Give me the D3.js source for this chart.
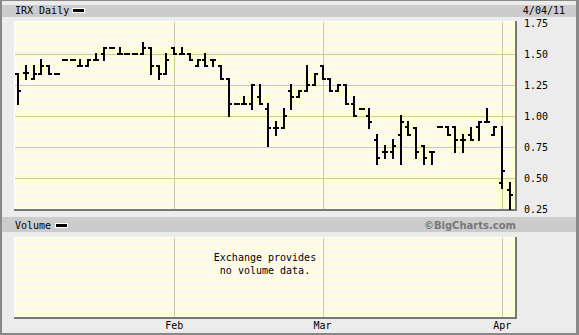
<!DOCTYPE html>
<html>
<head>
<meta charset="utf-8">
<script src="https://cdn.jsdelivr.net/npm/d3@7"></script>
<style>
body { margin: 0; background: #fff; }
svg { display: block; }
text { font-family: "DejaVu Sans Mono", monospace; font-size: 10px; fill: #000; }
</style>
</head>
<body>
<div id="chart"></div>
<script>
// trading days, Jan 3 - Apr 4 2011
const dates = [
    "2011-01-03","2011-01-04","2011-01-05","2011-01-06","2011-01-07",
    "2011-01-10","2011-01-11","2011-01-12","2011-01-13","2011-01-14",
    "2011-01-18","2011-01-19","2011-01-20","2011-01-21",
    "2011-01-24","2011-01-25","2011-01-26","2011-01-27","2011-01-28","2011-01-31",
    "2011-02-01","2011-02-02","2011-02-03","2011-02-04",
    "2011-02-07","2011-02-08","2011-02-09","2011-02-10","2011-02-11",
    "2011-02-14","2011-02-15","2011-02-16","2011-02-17","2011-02-18",
    "2011-02-22","2011-02-23","2011-02-24","2011-02-25","2011-02-28",
    "2011-03-01","2011-03-02","2011-03-03","2011-03-04",
    "2011-03-07","2011-03-08","2011-03-09","2011-03-10","2011-03-11",
    "2011-03-14","2011-03-15","2011-03-16","2011-03-17","2011-03-18",
    "2011-03-21","2011-03-22","2011-03-23","2011-03-24","2011-03-25",
    "2011-03-28","2011-03-29","2011-03-30","2011-03-31",
    "2011-04-01","2011-04-04"
];

const open = [1.34,1.35,1.30,1.34,1.40,1.34,1.45,1.45,1.40,1.40,1.45,1.50,1.55,1.50,1.50,1.50,1.50,1.55,1.40,1.34,
    1.55,1.50,1.50,1.40,1.45,1.45,1.40,1.30,1.10,1.10,1.10,1.15,1.06,0.90,0.90,1.20,1.15,1.20,1.25,
    1.40,1.30,1.20,1.25,1.10,1.06,1.00,0.81,0.71,0.71,0.85,0.91,0.90,0.76,0.71,0.91,0.91,0.91,0.81,0.85,0.91,0.95,0.85,
    0.46,0.40];
const high = [1.34,1.40,1.40,1.45,1.40,1.34,1.45,1.45,1.45,1.45,1.50,1.55,1.55,1.55,1.50,1.50,1.59,1.55,1.40,1.50,
    1.55,1.55,1.50,1.45,1.50,1.45,1.40,1.30,1.10,1.15,1.25,1.25,1.10,0.95,1.06,1.25,1.20,1.40,1.34,
    1.40,1.30,1.25,1.25,1.15,1.06,1.06,0.85,0.76,0.81,1.00,0.95,0.90,0.76,0.71,0.91,0.91,0.91,0.85,0.90,0.95,1.06,0.91,
    0.91,0.46];
const low = [1.10,1.30,1.30,1.34,1.34,1.34,1.45,1.45,1.40,1.40,1.45,1.45,1.55,1.50,1.50,1.50,1.50,1.34,1.30,1.34,
    1.50,1.50,1.45,1.40,1.40,1.40,1.30,1.00,1.10,1.10,1.06,1.10,0.76,0.85,0.90,1.06,1.15,1.20,1.25,
    1.30,1.20,1.20,1.10,1.00,1.06,0.90,0.61,0.66,0.66,0.61,0.85,0.66,0.61,0.61,0.91,0.85,0.71,0.71,0.81,0.81,0.95,0.85,
    0.42,0.25];
const close = [1.20,1.35,1.34,1.40,1.34,1.34,1.45,1.45,1.40,1.45,1.45,1.55,1.55,1.50,1.50,1.50,1.55,1.40,1.34,1.45,
    1.50,1.50,1.45,1.45,1.40,1.45,1.30,1.10,1.10,1.10,1.25,1.10,0.90,0.90,1.00,1.15,1.20,1.25,1.34,
    1.30,1.20,1.25,1.10,1.00,1.06,0.95,0.66,0.71,0.76,0.95,0.85,0.71,0.66,0.71,0.91,0.85,0.81,0.81,0.81,0.95,0.95,0.91,
    0.56,0.36];

const priceTicks = [0.25, 0.50, 0.75, 1.00, 1.25, 1.50, 1.75];
const monthDates = ["2011-02-01", "2011-03-01", "2011-04-01"];
const monthLabels = ["Feb", "Mar", "Apr"];

let width = 579, height = 335;
let plot = {left: 15, right: 515, top: 22, bottom: 209};
let vol = {top: 238, bottom: 317};

let svg = d3.select("#chart").append("svg")
    .attr("width", width)
    .attr("height", height);

// checker texture of the yellow panels
let pat = svg.append("defs").append("pattern")
    .attr("id", "dots")
    .attr("width", 2).attr("height", 2)
    .attr("patternUnits", "userSpaceOnUse");
pat.append("rect").attr("width", 2).attr("height", 2).attr("fill", "#ffffc8");
pat.append("rect").attr("width", 1).attr("height", 1).attr("fill", "#ffffe6");
pat.append("rect").attr("x", 1).attr("y", 1).attr("width", 1).attr("height", 1).attr("fill", "#ffffe6");

// frame
svg.append("rect").attr("width", width).attr("height", height).attr("fill", "#888");
svg.append("rect").attr("x", 2).attr("y", 1).attr("width", width - 5).attr("height", height - 3).attr("fill", "#ececec");
svg.append("rect").attr("x", 2).attr("y", 5).attr("width", width - 5).attr("height", 12).attr("fill", "#cccccc");
svg.append("rect").attr("x", 2).attr("y", 217).attr("width", width - 5).attr("height", 15).attr("fill", "#cccccc");

let x = d3.scalePoint().domain(dates).range([18, 510]);
let y = d3.scaleLinear().domain([0.25, 1.75]).range([plot.bottom, plot.top + 1]);

function panel(top, bottom) {
    svg.append("rect")
        .attr("x", plot.left - 1).attr("y", top - 1)
        .attr("width", plot.right - plot.left + 3).attr("height", bottom - top + 3)
        .attr("fill", "#777");
    svg.append("rect")
        .attr("x", plot.left - 1).attr("y", top - 1)
        .attr("width", plot.right - plot.left + 1).attr("height", bottom - top + 1)
        .attr("fill", "#fff");
    svg.append("rect")
        .attr("x", plot.left).attr("y", top)
        .attr("width", plot.right - plot.left).attr("height", bottom - top)
        .attr("fill", "url(#dots)");
    svg.append("g").selectAll("line")
        .data(monthDates)
        .join("line")
        .attr("x1", d => Math.round(x(d)) + 0.5)
        .attr("x2", d => Math.round(x(d)) + 0.5)
        .attr("y1", top).attr("y2", bottom)
        .attr("stroke", "#cccc99");
}

panel(plot.top, plot.bottom);
panel(vol.top, vol.bottom);

// horizontal grid
svg.append("g").selectAll("line")
    .data(priceTicks.slice(1, -1))
    .join("line")
    .attr("x1", plot.left).attr("x2", plot.right)
    .attr("y1", d => Math.round(y(d)) + 0.5)
    .attr("y2", d => Math.round(y(d)) + 0.5)
    .attr("stroke", "#cccc99");

// OHLC bars
let bars = svg.append("g").selectAll("g")
    .data(d3.range(dates.length))
    .join("g")
    .attr("fill", "#000");

bars.append("rect")
    .attr("x", i => Math.round(x(dates[i])) - 1)
    .attr("y", i => Math.round(y(high[i])) - 1)
    .attr("width", 2)
    .attr("height", i => Math.round(y(low[i])) - Math.round(y(high[i])) + 2);
bars.append("rect")
    .attr("x", i => Math.round(x(dates[i])) - 3)
    .attr("y", i => Math.round(y(open[i])) - 1)
    .attr("width", 2).attr("height", 2);
bars.append("rect")
    .attr("x", i => Math.round(x(dates[i])) + 1)
    .attr("y", i => Math.round(y(close[i])) - 1)
    .attr("width", 2).attr("height", 2);

// right price labels
svg.append("g").selectAll("text")
    .data(priceTicks)
    .join("text")
    .attr("x", 524)
    .attr("y", d => y(d) + 4)
    .text(d => d3.format(".2f")(d));

// month labels
svg.append("g").selectAll("text")
    .data(monthDates)
    .join("text")
    .attr("x", d => x(d))
    .attr("y", 329)
    .attr("text-anchor", "middle")
    .text((d, i) => monthLabels[i]);

// headers
svg.append("text").attr("x", 15).attr("y", 14).text("IRX Daily");
svg.append("rect").attr("x", 72).attr("y", 8).attr("width", 13).attr("height", 5).attr("fill", "#fff");
svg.append("rect").attr("x", 73).attr("y", 9).attr("width", 11).attr("height", 3).attr("fill", "#000");
svg.append("text").attr("x", 565).attr("y", 14).attr("text-anchor", "end").text("4/04/11");

svg.append("text").attr("x", 15).attr("y", 229).text("Volume");
svg.append("rect").attr("x", 55).attr("y", 223).attr("width", 13).attr("height", 5).attr("fill", "#fff");
svg.append("rect").attr("x", 56).attr("y", 224).attr("width", 11).attr("height", 3).attr("fill", "#000");
svg.append("text")
    .attr("x", 516).attr("y", 229)
    .attr("text-anchor", "end")
    .style("font-family", "'DejaVu Sans', sans-serif")
    .style("font-weight", "bold")
    .style("font-size", "10px")
    .style("fill", "#777")
    .text("\u00a9BigCharts.com");

svg.append("text").attr("x", 265).attr("y", 261).attr("text-anchor", "middle").text("Exchange provides");
svg.append("text").attr("x", 265).attr("y", 274).attr("text-anchor", "middle").text("no volume data.");
</script>
</body>
</html>
